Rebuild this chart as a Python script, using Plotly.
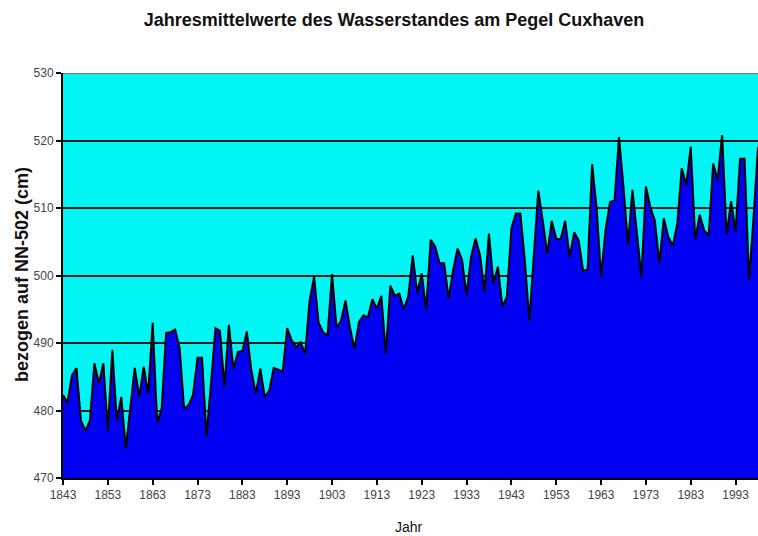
import plotly.graph_objects as go

years = list(range(1843, 1999))

water_level_cm = [
    482.3, 481.2, 485.2, 486.3, 478.5, 477.0, 478.5, 487.0, 484.0, 487.0,  # 1843-1852
    477.0, 489.0, 478.5, 482.0, 474.4, 480.5, 486.3, 482.0, 486.5, 482.5,  # 1853-1862
    493.0, 478.2, 480.3, 491.5, 491.6, 492.0, 489.3, 480.3, 480.8, 482.3,  # 1863-1872
    487.8, 487.8, 476.2, 484.0, 492.2, 491.8, 483.5, 492.7, 486.2, 488.7,  # 1873-1882
    488.8, 491.7, 486.0, 482.5, 486.2, 482.0, 483.0, 486.3, 486.0, 485.8,  # 1883-1892
    492.2, 490.4, 489.4, 490.1, 488.4, 496.3, 499.8, 493.0, 491.6, 491.1,  # 1893-1902
    500.2, 492.3, 493.3, 496.3, 492.3, 489.1, 493.1, 494.1, 493.8, 496.5,  # 1903-1912
    495.1, 497.0, 488.4, 498.5, 497.0, 497.3, 495.0, 496.9, 503.0, 497.4,  # 1913-1922
    500.3, 494.9, 505.3, 504.3, 501.8, 501.8, 496.6, 500.8, 504.0, 502.3,  # 1923-1932
    497.1, 502.8, 505.5, 503.0, 497.6, 506.2, 498.8, 501.3, 495.4, 496.9,  # 1933-1942
    507.0, 509.2, 509.2, 502.2, 493.3, 503.0, 512.6, 508.1, 503.2, 508.1,  # 1943-1952
    505.4, 505.4, 508.1, 502.7, 506.4, 505.2, 500.7, 500.9, 516.5, 510.1,  # 1953-1962
    499.8, 506.7, 510.9, 511.1, 520.5, 513.1, 504.6, 512.7, 506.0, 499.8,  # 1963-1972
    513.2, 510.1, 508.1, 501.8, 508.5, 505.7, 504.4, 507.7, 515.9, 513.4,  # 1973-1982
    519.1, 505.3, 509.0, 506.7, 505.9, 516.6, 514.2, 520.8, 506.0, 511.0,  # 1983-1992
    506.5, 517.3, 517.3, 499.3, 508.5, 519.0,                              # 1993-1998
]

x_ticks = list(range(1843, 1994, 10))
y_ticks = [470, 480, 490, 500, 510, 520, 530]

title_text = "Jahresmittelwerte des Wasserstandes am Pegel Cuxhaven"
y_title = "bezogen auf NN-502 (cm)"
x_title = "Jahr"

sans = "Liberation Sans, Arial, sans-serif"

fig = go.Figure()
fig.add_trace(go.Scatter(
    x=years, y=water_level_cm,
    mode="lines",
    fill="tozeroy",
    fillcolor="#0000f2",
    line=dict(color="#000000", width=2),
    hoverinfo="x+y",
    showlegend=False,
))

fig.add_shape(type="line", xref="paper", yref="y", x0=0, x1=1, y0=530, y1=530,
              line=dict(color="#7a7a7a", width=2), layer="above")

W, H = 758, 536
L, R, T, B = 63, 0, 73, 58
pw, ph = W - L - R, H - T - B

fig.update_layout(
    width=W, height=H,
    margin=dict(l=L, r=R, t=T, b=B),
    paper_bgcolor="white",
    plot_bgcolor="#00f5f5",
    title=dict(text="<b>" + title_text + "</b>", x=394 / W, xref="container", xanchor="center",
               y=1 - 20 / H, yref="container", yanchor="middle",
               font=dict(family=sans, size=18, color="#111111")),
    font=dict(family=sans, color="#333333"),
    annotations=[
        dict(text=x_title, xref="paper", yref="paper",
             x=(409 - L) / pw, y=-(527 - (T + ph)) / ph,
             xanchor="center", yanchor="middle", showarrow=False,
             font=dict(family=sans, size=14, color="#111111")),
        dict(text="<b>" + y_title + "</b>", xref="paper", yref="paper",
             x=(22 - L) / pw, y=(T + ph - 275) / ph,
             xanchor="center", yanchor="middle", showarrow=False, textangle=-90,
             font=dict(family=sans, size=18, color="#111111")),
    ],
)

fig.update_xaxes(
    range=[1843, 1998],
    tickvals=x_ticks,
    ticktext=[str(v) for v in x_ticks],
    ticks="outside", ticklen=5, tickwidth=2, tickcolor="#000000",
    showline=True, linecolor="#000000", linewidth=2,
    showgrid=False, zeroline=False, automargin=False,
    tickfont=dict(family=sans, size=12, color="#444444"),
)

fig.update_yaxes(
    range=[470, 530],
    tickvals=y_ticks,
    ticks="outside", ticklen=5, tickwidth=2, tickcolor="#000000",
    showline=True, linecolor="#000000", linewidth=2,
    showgrid=True, gridcolor="#1a1a1a", gridwidth=1.5,
    zeroline=False, automargin=False,
    tickfont=dict(family=sans, size=12, color="#444444"),
)

fig.write_html("out.html", config=dict(displayModeBar=False),
               post_script="document.body.style.margin='0';")
